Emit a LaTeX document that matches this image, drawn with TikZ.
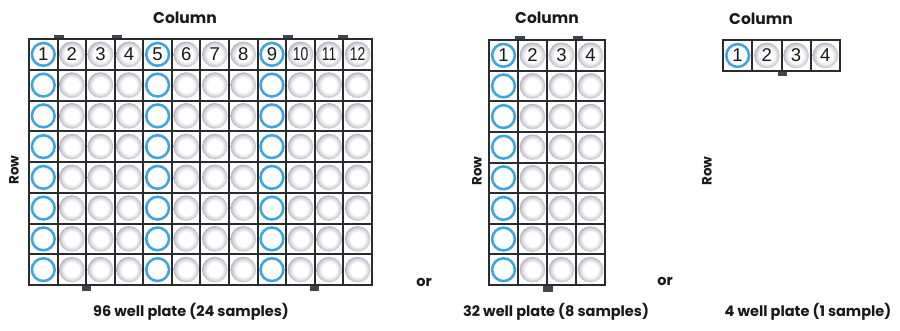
\documentclass[tikz,border=0pt]{standalone}
\usepackage{fontspec}
\setmainfont{Poppins}
\newfontfamily\numfont{Liberation Sans}
\definecolor{gridc}{RGB}{40,44,44}
\definecolor{tabc}{RGB}{62,72,72}
\definecolor{wblue}{RGB}{62,165,220}
\definecolor{wgray}{RGB}{125,122,145}
\definecolor{txtc}{RGB}{25,25,25}
\pgfdeclareradialshading{wellshade}{\pgfpoint{0bp}{0bp}}{color(0bp)=(white); color(14bp)=(white); color(23bp)=(wgray!40); color(30bp)=(wgray); color(33bp)=(wgray!85); color(36bp)=(wgray!40); color(50bp)=(wgray!40)}
\pgfdeclareradialshading{blueshade}{\pgfpoint{0bp}{0bp}}{color(0bp)=(white); color(18bp)=(white); color(30bp)=(wblue!25); color(36bp)=(wblue!40); color(50bp)=(wblue!40)}
\tikzset{
  gridline/.style={draw=gridc, line width=2pt},
  lbl/.style={font=\fontsize{14.5}{16}\selectfont\bfseries, text=txtc, inner sep=0pt},
  collbl/.style={font=\fontsize{15.5}{17}\selectfont\bfseries, text=txtc, inner sep=0pt},
  rowlbl/.style={font=\fontsize{13.5}{15}\selectfont\bfseries, text=txtc, inner sep=0pt, rotate=90},
  numlbl/.style={font=\numfont\fontsize{18.5}{20}\selectfont, text=txtc, inner sep=0pt},
}
% #1 x0, #2 y0, #3 cell w, #4 cell h, #5 ncols, #6 nrows, #7 blue columns
\newcommand\drawplate[7]{%
  \foreach \c in {1,...,#5}{%
    \foreach \r in {1,...,#6}{%
      \pgfmathsetmacro\cx{#1+(\c-0.5)*#3}%
      \pgfmathsetmacro\cy{#2+(\r-0.5)*#4}%
      \shade[shading=wellshade] (\cx,\cy) circle (12.8);
    }%
  }%
  \foreach \c in {#7}{%
    \foreach \r in {1,...,#6}{%
      \pgfmathsetmacro\cx{#1+(\c-0.5)*#3}%
      \pgfmathsetmacro\cy{#2+(\r-0.5)*#4}%
      \fill[white] (\cx,\cy) circle (13.2);
      \shade[shading=blueshade] (\cx,\cy) circle (11.5);
      \draw[wblue, line width=2.5pt] (\cx,\cy) circle (11.4);
    }%
  }%
  \foreach \c in {1,...,#5}{%
    \pgfmathsetmacro\cx{#1+(\c-0.5)*#3}%
    \pgfmathsetmacro\cy{#2+0.5*#4}%
    \ifnum\c<10
      \node[numlbl] at (\cx,\cy) {\c};
    \else
      \node[numlbl, xscale=0.75] at (\cx,\cy) {\c};
    \fi
  }%
  \foreach \c in {1,...,#5}{%
    \pgfmathsetmacro\gx{#1+\c*#3}%
    \ifnum\c<#5 \draw[gridline] (\gx,#2) -- (\gx,#2+#6*#4);\fi
  }%
  \foreach \r in {1,...,#6}{%
    \pgfmathsetmacro\gy{#2+\r*#4}%
    \ifnum\r<#6 \draw[gridline] (#1,\gy) -- (#1+#5*#3,\gy);\fi
  }%
  \draw[gridline] (#1,#2) rectangle (#1+#5*#3,#2+#6*#4);
}
\begin{document}
\begin{tikzpicture}[x=1pt,y=-1pt]
\useasboundingbox (0,0) rectangle (900,330);
\fill[white] (0,0) rectangle (900,330);
% 96 well plate
\foreach \a in {54,112,283,338}{\fill[tabc] (\a,34.5) rectangle (\a+10,39);}
\foreach \a in {82,310}{\fill[tabc] (\a,285) rectangle (\a+9,291);}
\drawplate{29}{39}{28.58}{30.75}{12}{8}{1,5,9}
% 32 well plate
\foreach \a in {515,573}{\fill[tabc] (\a,35.5) rectangle (\a+10,40);}
\fill[tabc] (543,285) rectangle (553,291.5);
\drawplate{489}{40}{29}{30.625}{4}{8}{1}
% 4 well plate
\fill[tabc] (778,71) rectangle (787,76);
\drawplate{723}{40}{29.25}{31}{4}{1}{1}
% labels
\node[collbl] (col96) at (185,18) {Column};
\node[collbl] (col32) at (547,18) {Column};
\node[collbl] (col4) at (761,19) {Column};
\node[rowlbl] (row96) at (14,170) {Row};
\node[rowlbl] (row32) at (477,171) {Row};
\node[rowlbl] (row4) at (707,171) {Row};
\node[lbl] (or1) at (424,282) {or};
\node[lbl] (or2) at (665,281) {or};
\node[lbl] (cap96) at (191,312) {96 well plate (24 samples)};
\node[lbl] (cap32) at (556,312) {32 well plate (8 samples)};
\node[lbl] (cap4) at (808,312) {4 well plate (1 sample)};
\end{tikzpicture}
\end{document}
